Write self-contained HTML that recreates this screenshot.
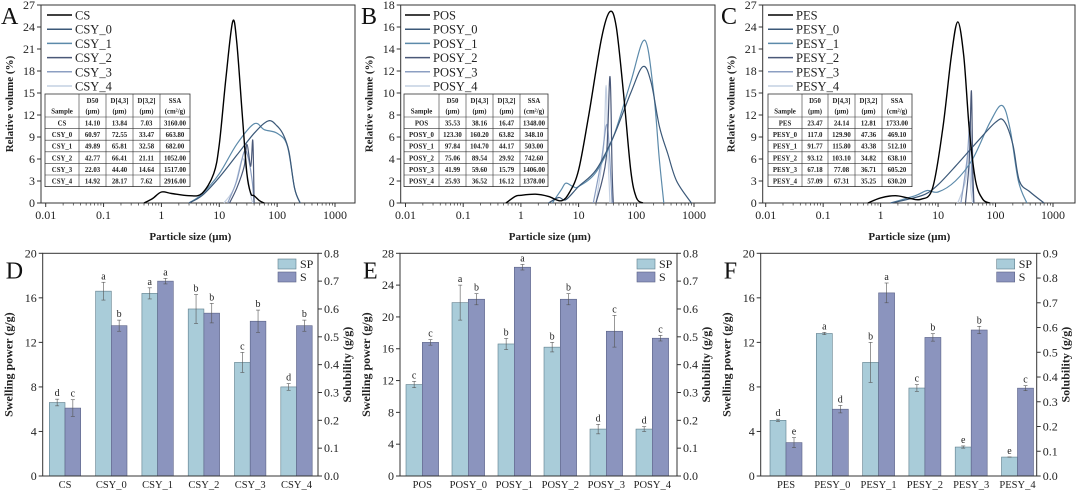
<!DOCTYPE html>
<html><head><meta charset="utf-8">
<style>
html,body{margin:0;padding:0;background:#fff;}
svg{display:block;font-family:"Liberation Serif","Times New Roman",serif;}
</style></head>
<body>
<svg id="fig" width="1080" height="492" viewBox="0 0 1080 492" xmlns="http://www.w3.org/2000/svg"></svg>
<script>
// ---------- Particle size data (size µm, volume %) ----------
const psdA_names = ["CS","CSY_0","CSY_1","CSY_2","CSY_3","CSY_4"];
const psdA_CS = [[0.5,0],[0.7,0.6],[1,1.5],[1.5,1.3],[3,1.0],[5,1.3],[8,4],[10,8],[13,17],[17,24.7],[20,22],[25,12],[30,4],[35,1.3],[40,1],[50,0.3],[60,0]];
const psdA_0 = [[3,0],[5,1],[10,3.5],[20,6.5],[40,9.5],[70,11.2],[100,10.5],[130,9.2],[160,7],[200,2],[250,0]];
const psdA_1 = [[3,0],[5,1.2],[10,4],[20,8],[40,10.8],[60,10],[100,9.5],[150,7.8],[200,2],[250,0]];
const psdA_2 = [[15,0],[20,2],[27,5],[30,8],[35,5],[38,8.5],[40,0]];
const psdA_3 = [[14,0],[20,3],[27,7],[32,6],[37,3],[40,0]];
const psdA_4 = [[12,0],[18,2],[25,6],[30,4],[35,1],[38,0]];
const tblA = [["CS","14.10","13.84","7.03","3160.00"],["CSY_0","60.97","72.55","33.47","663.80"],["CSY_1","49.89","65.81","32.58","682.00"],["CSY_2","42.77","66.41","21.11","1052.00"],["CSY_3","22.03","44.40","14.64","1517.00"],["CSY_4","14.92","28.17","7.62","2916.00"]];

const psdB_names = ["POS","POSY_0","POSY_1","POSY_2","POSY_3","POSY_4"];
const psdB_P = [[0.55,0],[0.8,0.6],[1,0.7],[1.8,0.8],[3,0.6],[5,0.2],[7,1],[10,3],[15,8],[25,15],[35,17.4],[45,16],[60,10],[80,3],[100,0.5],[130,0]];
const psdB_0 = [[3,0],[4.5,0.5],[6,0.3],[10,1.5],[20,3],[40,6],[80,10],[130,12.4],[180,11],[250,7],[350,4.5],[500,2],[900,0]];
const psdB_1 = [[3.5,0],[5,1.2],[6,1.8],[8,1.5],[10,1.5],[20,2.8],[40,6],[80,11],[140,14.8],[200,10],[250,4],[300,0]];
const psdB_2 = [[20,0],[30,4],[35,11.5],[38,3],[40,0]];
const psdB_3 = [[18,0],[25,4],[30,7],[33,6],[38,0]];
const psdB_4 = [[20,0],[27,5],[30,10.7],[32,5],[35,0]];
const tblB = [["POS","35.53","38.16","16.47","1348.00"],["POSY_0","123.30","160.20","63.82","348.10"],["POSY_1","97.84","104.70","44.17","503.00"],["POSY_2","75.06","89.54","29.92","742.60"],["POSY_3","41.99","59.60","15.79","1406.00"],["POSY_4","25.93","36.52","16.12","1378.00"]];

const psdC_names = ["PES","PESY_0","PESY_1","PESY_2","PESY_3","PESY_4"];
const psdC_P = [[0.6,0],[1,0.7],[1.8,1.0],[3,0.7],[5,0.5],[8,2],[12,10],[17,20],[22,24.7],[28,20],[35,10],[45,3],[60,0.5],[80,0]];
const psdC_0 = [[1.5,0],[3,0.5],[6,1.2],[10,2.5],[20,5],[50,8.5],[100,11],[140,11.2],[200,8],[260,3],[400,1.5],[700,0]];
const psdC_1 = [[1.5,0],[4,1],[6.5,1.7],[10,1.5],[20,3],[40,6],[80,11],[130,13.3],[180,10],[250,3],[350,0]];
const psdC_2 = [[30,0],[35,6],[38,15.3],[40,5],[42,0]];
const psdC_3 = [[25,0],[32,6],[36,11],[39,3],[42,0]];
const psdC_4 = [[22,0],[30,3],[34,7],[37,2],[40,0]];
const tblC = [["PES","23.47","24.14","12.81","1733.00"],["PESY_0","117.0","129.90","47.36","469.10"],["PESY_1","91.77","115.80","43.38","512.10"],["PESY_2","93.12","103.10","34.82","638.10"],["PESY_3","67.18","77.08","36.71","605.20"],["PESY_4","57.09","67.31","35.25","630.20"]];

// ---------- Swelling / solubility data ----------
const catD = ["CS","CSY_0","CSY_1","CSY_2","CSY_3","CSY_4"];
const spD = [6.6,16.6,16.4,15.0,10.2,8.0];
const spErrD = [0.3,0.8,0.5,1.3,0.9,0.3];
const sD = [0.244,0.54,0.70,0.585,0.556,0.54];
const sErrD = [0.03,0.02,0.01,0.035,0.04,0.02];
const spLetD = ["d","a","a","b","c","d"];
const sLetD = ["c","b","a","b","b","b"];

const catE = ["POS","POSY_0","POSY_1","POSY_2","POSY_3","POSY_4"];
const spE = [11.5,21.8,16.6,16.2,5.9,5.9];
const spErrE = [0.4,2.2,0.7,0.6,0.6,0.3];
const sE = [0.48,0.635,0.75,0.635,0.52,0.495];
const sErrE = [0.01,0.02,0.01,0.02,0.057,0.01];
const spLetE = ["c","a","b","b","d","d"];
const sLetE = ["c","b","a","b","c","c"];

const catF = ["PES","PESY_0","PESY_1","PESY_2","PESY_3","PESY_4"];
const spF = [5.0,12.8,10.2,7.9,2.6,1.7];
const spErrF = [0.1,0.1,1.8,0.3,0.1,0.0];
const sF = [0.135,0.27,0.74,0.56,0.59,0.355];
const sErrF = [0.02,0.015,0.04,0.015,0.015,0.01];
const spLetF = ["d","a","b","c","e","e"];
const sLetF = ["e","d","a","b","b","c"];

const psdColors = ["#000000","#3b5878","#5c8aaa","#4a5878","#8c9fc2","#c4d0e2"];
const NS = "http://www.w3.org/2000/svg";
const svg = document.getElementById("fig");
function el(tag, attrs, parent, txt){
  const e = document.createElementNS(NS, tag);
  for (const k in attrs) e.setAttribute(k, attrs[k]);
  if (txt !== undefined) e.textContent = txt;
  (parent||svg).appendChild(e);
  return e;
}
function smoothPath(pts){
  let d = "M"+pts[0][0].toFixed(1)+","+pts[0][1].toFixed(1);
  for (let i=0;i<pts.length-1;i++){
    const p0=pts[Math.max(0,i-1)],p1=pts[i],p2=pts[i+1],p3=pts[Math.min(pts.length-1,i+2)];
    const c1=[p1[0]+(p2[0]-p0[0])/6,p1[1]+(p2[1]-p0[1])/6];
    const c2=[p2[0]-(p3[0]-p1[0])/6,p2[1]-(p3[1]-p1[1])/6];
    d+=" C"+c1[0].toFixed(1)+","+c1[1].toFixed(1)+" "+c2[0].toFixed(1)+","+c2[1].toFixed(1)+" "+p2[0].toFixed(1)+","+p2[1].toFixed(1);
  }
  return d;
}

function psdPanel(o){
  const g = el("g",{});
  
  
  const L=o.left,R=o.right,T=5,B=203;
  const x0=o.x001, x1=o.x1000;
  const xs = v => x0 + (Math.log10(v)+2)*(x1-x0)/5;
  const ys = v => B - v*(B-T)/o.ymax;
  const fr = el("rect",{x:L,y:T,width:R-L,height:B-T,fill:"none",stroke:"#333","stroke-width":1},g);
  
  
  for (let v=0; v<=o.ymax+1e-9; v+=o.ystep){
    const y=ys(v);
    el("line",{x1:L-4,y1:y,x2:L,y2:y,stroke:"#333"},g);
    const t=el("text",{x:L-6,y:y+4,"font-size":12,"text-anchor":"end",fill:"#222"},g,String(v));
    
    
  }
  for (let e=-2;e<=3;e++){
    const x=xs(Math.pow(10,e));
    el("line",{x1:x,y1:B,x2:x,y2:B+4,stroke:"#333"},g);
    const lab = e<0 ? (e==-2?"0.01":"0.1") : String(Math.pow(10,e));
    const t=el("text",{x:x,y:B+16,"font-size":12,"text-anchor":"middle",fill:"#222"},g,lab);
    
    
    if (e<3) for (let m=2;m<=9;m++){
      const xm=xs(m*Math.pow(10,e));
      el("line",{x1:xm,y1:B,x2:xm,y2:B+2.5,stroke:"#333","stroke-width":0.7},g);
    }
  }
  const xt=el("text",{x:(x0+x1)/2,y:240,"font-size":11,"font-weight":"bold","text-anchor":"middle",fill:"#222"},g,"Particle size (μm)");
  
  
  const yt=el("text",{x:0,y:0,"font-size":11,"font-weight":"bold","text-anchor":"middle",fill:"#222",transform:"translate("+(o.left-28)+","+((T+B)/2)+") rotate(-90)"},g,"Relative volume (%)");
  
  
  const pl=el("text",{x:o.letterX,y:24,"font-size":24,fill:"#111"},g,o.letter);
  
  
  for (let i=o.series.length-1;i>=0;i--){
    const pts=o.series[i].map(p=>[xs(p[0]),ys(p[1])]);
    const c=el("path",{d:smoothPath(pts),fill:"none",stroke:psdColors[i],"stroke-width":i==0?1.4:1.2},g);
    
    
  }
  const lx=o.legX;
  for (let i=0;i<o.names.length;i++){
    const y=15+i*14.2;
    el("line",{x1:lx,y1:y,x2:lx+25,y2:y,stroke:psdColors[i],"stroke-width":1.5},g);
    const t=el("text",{x:lx+28,y:y+4.5,"font-size":12.5,fill:"#222"},g,o.names[i]);
    
    
  }
  const cols=o.cols, tT=94, hH=23, rH=11.6;
  const tb=el("g",{},g);
  
  
  const tBot=tT+hH+rH*6;
  el("rect",{x:cols[0],y:tT,width:cols[5]-cols[0],height:tBot-tT,fill:"#fff",stroke:"#333","stroke-width":0.8},tb);
  for (let c=1;c<5;c++) el("line",{x1:cols[c],y1:tT,x2:cols[c],y2:tBot,stroke:"#333","stroke-width":0.6},tb);
  for (let r=0;r<6;r++){ const y=tT+hH+r*rH; el("line",{x1:cols[0],y1:y,x2:cols[5],y2:y,stroke:"#333","stroke-width":0.6},tb); }
  const hdr1=["","D50","D[4,3]","D[3,2]","SSA"], hdr2=["Sample","(μm)","(μm)","(μm)","(cm²/g)"];
  for (let c=0;c<5;c++){
    const cx=(cols[c]+cols[c+1])/2;
    if(hdr1[c]) el("text",{x:cx,y:tT+9,"font-size":6.8,"font-weight":"bold","text-anchor":"middle",fill:"#222"},tb,hdr1[c]);
    el("text",{x:cx,y:tT+19.5,"font-size":6.8,"font-weight":"bold","text-anchor":"middle",fill:"#222"},tb,hdr2[c]);
  }
  o.table.forEach((row,r)=>{
    row.forEach((v,c)=>{
      el("text",{x:(cols[c]+cols[c+1])/2,y:tT+hH+r*rH+8.5,"font-size":6.8,"font-weight":"bold","text-anchor":"middle",fill:"#222"},tb,v);
    });
  });
}

psdPanel({id:"a",letter:"A",letterX:1,left:41,right:355,x001:45.7,x1000:335,ymax:27,ystep:3,legX:47,names:psdA_names,series:[psdA_CS,psdA_0,psdA_1,psdA_2,psdA_3,psdA_4],table:tblA,cols:[45,79,106,133,160,190]});
psdPanel({id:"b",letter:"B",letterX:361,left:400.7,right:715,x001:405.5,x1000:694,ymax:18,ystep:2,legX:405,names:psdB_names,series:[psdB_P,psdB_0,psdB_1,psdB_2,psdB_3,psdB_4],table:tblB,cols:[404,439,466,493,520,548]});
psdPanel({id:"c",letter:"C",letterX:721,left:762.7,right:1075,x001:765.7,x1000:1053,ymax:27,ystep:3,legX:768,names:psdC_names,series:[psdC_P,psdC_0,psdC_1,psdC_2,psdC_3,psdC_4],table:tblC,cols:[768,802,828,855,882,912]});

function barPanel(o){
  const g = el("g",{});
  
  
  const L=o.left,R=o.right,T=253.3,B=476;
  const yL=v=>B-v*(B-T)/o.ymaxL, yR=v=>B-v*(B-T)/o.ymaxR;
  const bw=o.bw;
  const xc=i=>o.c0+i*o.sp;
  o.cats.forEach((cat,i)=>{
    const x=xc(i);
    const b1=el("rect",{x:x-bw,y:yL(o.sp_[i]),width:bw,height:B-yL(o.sp_[i]),fill:"#a9ccd9",stroke:"#5e7d8a","stroke-width":0.6},g);
    
    
    const b2=el("rect",{x:x,y:yR(o.s[i]),width:bw,height:B-yR(o.s[i]),fill:"#8b94be",stroke:"#5a6286","stroke-width":0.6},g);
    
    
    const ex1=x-bw/2, ex2=x+bw/2;
    const e1t=yL(o.sp_[i]+o.spE[i]), e1b=yL(o.sp_[i]-o.spE[i]);
    el("line",{x1:ex1,y1:e1t,x2:ex1,y2:e1b,stroke:"#555","stroke-width":0.6},g);
    el("line",{x1:ex1-2,y1:e1t,x2:ex1+2,y2:e1t,stroke:"#555","stroke-width":0.6},g);
    el("line",{x1:ex1-2,y1:e1b,x2:ex1+2,y2:e1b,stroke:"#555","stroke-width":0.6},g);
    const e2t=yR(o.s[i]+o.sE[i]), e2b=yR(o.s[i]-o.sE[i]);
    el("line",{x1:ex2,y1:e2t,x2:ex2,y2:e2b,stroke:"#555","stroke-width":0.6},g);
    el("line",{x1:ex2-2,y1:e2t,x2:ex2+2,y2:e2t,stroke:"#555","stroke-width":0.6},g);
    el("line",{x1:ex2-2,y1:e2b,x2:ex2+2,y2:e2b,stroke:"#555","stroke-width":0.6},g);
    const l1=el("text",{x:ex1,y:e1t-3,"font-size":10,"text-anchor":"middle",fill:"#222"},g,o.spL[i]);
    
    
    const l2=el("text",{x:ex2,y:e2t-3,"font-size":10,"text-anchor":"middle",fill:"#222"},g,o.sL[i]);
    
    
    const ct=el("text",{x:x,y:488,"font-size":10.5,"text-anchor":"middle",fill:"#222"},g,cat);
    
    
  });
  const fr=el("rect",{x:L,y:T,width:R-L,height:B-T,fill:"none",stroke:"#333","stroke-width":1},g);
  
  
  for (let v=0; v<=o.ymaxL+1e-9; v+=o.stepL){
    const y=yL(v);
    el("line",{x1:L-4,y1:y,x2:L,y2:y,stroke:"#333"},g);
    const t=el("text",{x:L-6,y:y+4,"font-size":12,"text-anchor":"end",fill:"#222"},g,String(v));
    
    
  }
  for (let k=0; k*0.1<=o.ymaxR+1e-9; k++){
    const v=k*0.1, y=yR(v);
    el("line",{x1:R,y1:y,x2:R+4,y2:y,stroke:"#333"},g);
    const t=el("text",{x:R+6,y:y+4,"font-size":12,fill:"#222"},g,v.toFixed(1));
    
    
  }
  const yt=el("text",{x:0,y:0,"font-size":12,"font-weight":"bold","text-anchor":"middle",fill:"#222",transform:"translate("+(L-30)+","+((T+B)/2)+") rotate(-90)"},g,"Swelling power (g/g)");
  
  
  const yt2=el("text",{x:0,y:0,"font-size":12,"font-weight":"bold","text-anchor":"middle",fill:"#222",transform:"translate("+(R+33)+","+((T+B)/2)+") rotate(-90)"},g,"Solubility (g/g)");
  
  
  const pl=el("text",{x:L-37,y:T+25,"font-size":24,fill:"#111"},g,o.letter);
  
  
  const lx=R-40;
  el("rect",{x:lx,y:259,width:18,height:10,fill:"#a9ccd9",stroke:"#5e7d8a","stroke-width":0.6},g);
  const t1=el("text",{x:lx+22,y:268,"font-size":12,fill:"#222"},g,"SP");
  
  
  el("rect",{x:lx,y:272,width:18,height:10,fill:"#8b94be",stroke:"#5a6286","stroke-width":0.6},g);
  const t2=el("text",{x:lx+22,y:281,"font-size":12,fill:"#222"},g,"S");
  
  
}
barPanel({id:"d",letter:"D",left:42.7,right:318,c0:65,sp:46.3,bw:15.7,ymaxL:20,stepL:4,ymaxR:0.8,cats:catD,sp_:spD,spE:spErrD,s:sD,sE:sErrD,spL:spLetD,sL:sLetD});
barPanel({id:"e",letter:"E",left:400,right:677,c0:422.3,sp:46,bw:16.3,ymaxL:28,stepL:4,ymaxR:0.8,cats:catE,sp_:spE,spE:spErrE,s:sE,sE:sErrE,spL:spLetE,sL:sLetE});
barPanel({id:"f",letter:"F",left:760.7,right:1036.7,c0:786,sp:46.3,bw:16,ymaxL:20,stepL:4,ymaxR:0.9,cats:catF,sp_:spF,spE:spErrF,s:sF,sE:sErrF,spL:spLetF,sL:sLetF});
</script>
</body></html>
